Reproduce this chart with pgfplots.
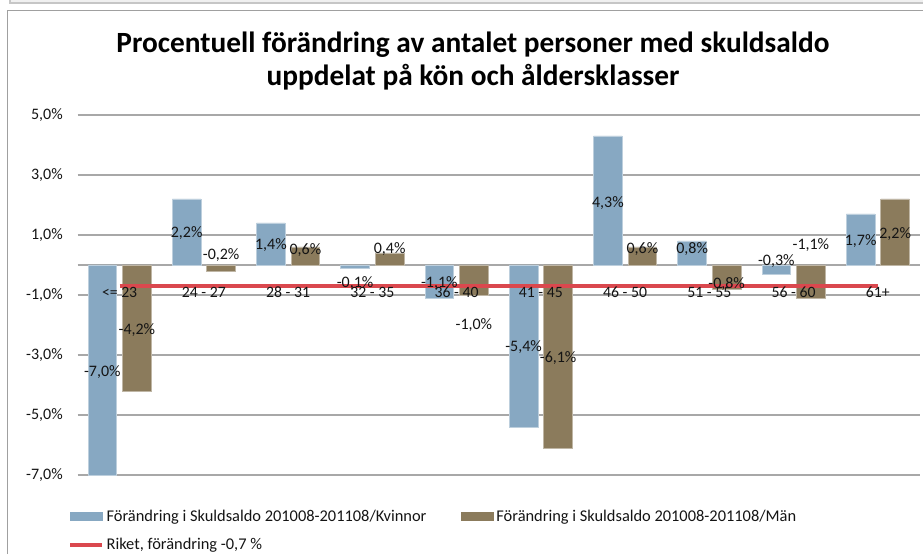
\documentclass[border=0pt]{standalone}
\usepackage{fontspec}
\setmainfont{Carlito}
\usepackage{pgfplots}
\usepackage{pgfplotstable}
\pgfplotsset{compat=1.18}
\definecolor{kvblue}{RGB}{135,168,194}
\definecolor{manbrown}{RGB}{139,123,92}
\definecolor{riketred}{RGB}{218,72,78}
\definecolor{gridgray}{RGB}{168,168,168}
\definecolor{framegray}{RGB}{160,160,160}
\definecolor{txt}{RGB}{20,20,20}

\pgfplotsset{
  myaxis/.style={
    at={(58.125pt,59.25pt)}, anchor=south west,
    scale only axis, width=631.875pt, height=270pt,
    xmin=-0.5, xmax=9.5, ymin=-7, ymax=5,
    axis line style={draw=none},
    major tick length=0pt,
  },
}

% x: category index, v: value (%), ly: label position
\pgfplotstableread{
x v ly
0 -7.0 -3.57
1 2.2 1.07
2 1.4 0.67
3 -0.1 -0.60
4 -1.1 -0.60
5 -5.4 -2.73
6 4.3 2.07
7 0.8 0.53
8 -0.3 0.13
9 1.7 0.80
}\kvinnor
\pgfplotstableread{
x v ly
0 -4.2 -2.17
1 -0.2 0.33
2 0.6 0.50
3 0.4 0.53
4 -1.0 -2.00
5 -6.1 -3.10
6 0.6 0.53
7 -0.8 -0.63
8 -1.1 0.67
9 2.2 1.03
}\man

\begin{document}
\begin{tikzpicture}[x=0.75pt,y=0.75pt]
\path[use as bounding box] (0,0) rectangle (923,554);
% chart frame
\fill[gray!12] (10,550) rectangle (923,554);
\draw[gray!45, line width=0.8pt] (10,554) -- (10,551) -- (923,551);
\draw[framegray, line width=0.9pt] (7.5,0) -- (7.5,543.5) -- (923,543.5);
% title
\node[font=\fontsize{22}{24.5}\selectfont\bfseries, align=center, text=black] at (473,493)
  {Procentuell förändring av antalet personer med skuldsaldo\\uppdelat på kön och åldersklasser};

\begin{axis}[
  myaxis,
  ytick={-7,-5,...,5},
  xtick=\empty,
  ymajorgrids,
  grid style={gridgray, line width=1.1pt},
  extra y ticks={0}, extra y tick labels={},
  extra y tick style={grid=major},
  /pgf/number format/.cd, use comma, fixed, fixed zerofill, precision=1, assume math mode=true,
  /pgfplots/.cd,
  yticklabel={\pgfmathprintnumber{\tick}\%},
  yticklabel style={anchor=east, inner sep=0pt, xshift=-10.9pt, font=\fontsize{12}{14}\selectfont, text=txt},
  legend columns=2,
  legend style={draw=none, fill=none, at={(-0.0156,-0.082)}, anchor=north west,
    font=\fontsize{12.3}{14}\selectfont, text=txt,
    /tikz/every even column/.append style={column sep=24pt},
    row sep=7pt},
  legend cell align=left,
]
\addplot[ybar, bar width=0.34, bar shift=-0.205, fill=kvblue, draw=kvblue!55!white, line width=0.5pt,
  legend image code/.code={\fill[kvblue] (0pt,-3pt) rectangle (24pt,3pt);}]
  table[x=x, y=v] {\kvinnor};
\addlegendentry{Förändring i Skuldsaldo 201008-201108/Kvinnor}
\addplot[ybar, bar width=0.34, bar shift=0.205, fill=manbrown, draw=manbrown!55!white, line width=0.5pt,
  legend image code/.code={\fill[manbrown] (0pt,-3pt) rectangle (24pt,3pt);}]
  table[x=x, y=v] {\man};
\addlegendentry{Förändring i Skuldsaldo 201008-201108/Män}
\addplot[riketred, line width=2.5pt, mark=none,
  legend image code/.code={\draw[riketred, line width=2.5pt] (0pt,0pt) -- (24pt,0pt);}]
  coordinates {(0,-0.7) (9,-0.7)};
\addlegendentry{Riket, förändring -0,7 \%}
\addplot[draw=none, mark=none, forget plot, point meta=explicit,
  nodes near coords={\pgfmathprintnumber{\pgfplotspointmeta}\%},
  nodes near coords align=center,
  every node near coord/.append style={anchor=center, inner sep=0pt, font=\fontsize{12}{14}\selectfont, text=txt}]
  table[x expr=\thisrow{x}-0.205, y=ly, meta=v] {\kvinnor};
\addplot[draw=none, mark=none, forget plot, point meta=explicit,
  nodes near coords={\pgfmathprintnumber{\pgfplotspointmeta}\%},
  nodes near coords align=center,
  every node near coord/.append style={anchor=center, inner sep=0pt, font=\fontsize{12}{14}\selectfont, text=txt}]
  table[x expr=\thisrow{x}+0.205, y=ly, meta=v] {\man};
\end{axis}

% second axis: category labels drawn over the bars
\begin{axis}[
  myaxis,
  ytick=\empty,
  xtick={0,...,9},
  xticklabels={{<= 23},{24 - 27},{28 - 31},{32 - 35},{36 - 40},{41 - 45},{46 - 50},{51 - 55},{56 - 60},{61+}},
  xticklabel style={anchor=center, inner sep=0pt, yshift=137.25pt, font=\fontsize{11.8}{14}\selectfont, text=txt},
]
\end{axis}
\end{tikzpicture}
\end{document}
